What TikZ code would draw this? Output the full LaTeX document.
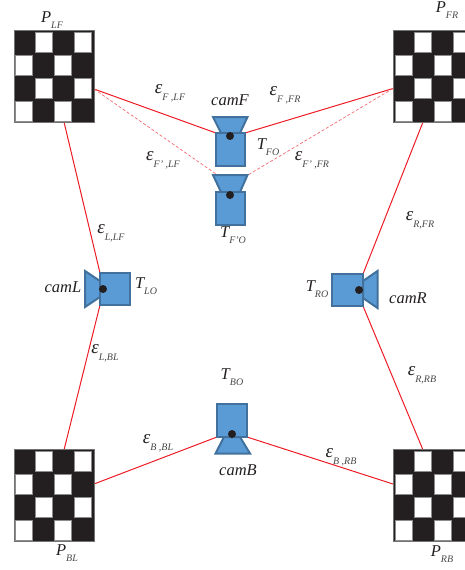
\documentclass[tikz,border=0pt]{standalone}
\usepackage{amsmath}
\usepackage{fontspec}
\setmainfont{Liberation Serif}
\usetikzlibrary{arrows.meta,positioning,backgrounds}
\definecolor{camfill}{HTML}{5B9BD5}
\definecolor{camline}{HTML}{41719C}
\definecolor{boardblack}{HTML}{231F20}
\definecolor{errred}{HTML}{ED1C24}
\tikzset{
  board/.style={draw=black!55,line width=0.8pt,fill=boardblack,minimum width=80pt,minimum height=92pt,inner sep=0pt,outer sep=0pt},
  boardcell/.style={draw=black!45,line width=0.7pt,fill=white,minimum width=17pt,minimum height=19.5pt,inner sep=0pt,outer sep=0pt},
  cambody/.style={draw=camline,line width=2pt,fill=camfill,inner sep=0pt,outer sep=0pt},
  camlens/.style={draw=camline,line width=2pt,fill=camfill,line join=miter},
  camdot/.style={circle,fill=boardblack,minimum size=8pt,inner sep=0pt},
  errline/.style={draw=errred,line width=1pt},
  errdash/.style={draw=errred!65,line width=0.7pt,densely dashed},
  txt/.style={inner sep=0pt,text=boardblack,font=\fontsize{16.5}{18}\selectfont\itshape},
}
% symbol with a lowered small index
\newcommand{\sublabel}[2]{#1\raisebox{-0.38em}{\fontsize{10}{10}\selectfont\itshape\color{black!72}#2}}
\newcommand{\errlabel}[1]{\sublabel{\fontsize{19}{18}\selectfont ε}{#1}}
\newcommand{\checkerboard}[1]{%
  \foreach \col/\row in {1/0,3/0,0/1,2/1,1/2,3/2,0/3,2/3}{
    \node[boardcell] (#1c\col\row) at ([xshift=\col*19.6pt+10pt,yshift=-\row*22.9pt-12pt]#1.north west) {};
  }
}
\begin{document}
\begin{tikzpicture}[x=1pt,y=-1pt,>=Latex]
\clip (0,0) rectangle (465,570);
% calibration boards
\node[board] (plf) at (54,76.5) {};
\node[board] (pfr) at (433.5,76.5) {};
\node[board] (pbl) at (54,495.5) {};
\node[board] (prb) at (433.5,495.5) {};
\checkerboard{plf}
\checkerboard{pfr}
\checkerboard{pbl}
\checkerboard{prb}
% where the lines meet the boards
\coordinate (plfe) at (94,89);
\coordinate (plfs) at (64,122);
\coordinate (pfrw) at (393,88.5);
\coordinate (pfrs) at (423,122);
\coordinate (pbln) at (64,450);
\coordinate (pble) at (94,484);
\coordinate (prbn) at (423,450);
\coordinate (prbw) at (393,484);
% camera bodies
\node[cambody,minimum width=29pt,minimum height=33pt] (camf) at (230.5,149.5) {};
\node[cambody,minimum width=29pt,minimum height=33pt] (camfo) at (230.5,208.5) {};
\node[cambody,minimum width=30pt,minimum height=32pt] (caml) at (115,289) {};
\node[cambody,minimum width=31pt,minimum height=32pt] (camr) at (347.5,290) {};
\node[cambody,minimum width=30pt,minimum height=33pt] (camb) at (232,420.5) {};
\coordinate (lensfo) at (216,174);
\coordinate (lensfr) at (248,175);
\begin{scope}[on background layer]
% lines
\draw[errline] (plfe)--(camf.north west);
\draw[errline] (pfrw)--(camf.north east);
\draw[errdash] (plfe)--(lensfo);
\draw[errdash] (pfrw)--(lensfr);
\draw[errline] (plfs)--(caml.north west);
\draw[errline] (pbln)--(caml.south west);
\draw[errline] (pfrs)--(camr.north east);
\draw[errline] (prbn)--(camr.south east);
\draw[errline] (pble)--(camb.south west);
\draw[errline] (prbw)--(camb.south east);
% lenses
\draw[camlens] (213,117)--(247.5,117)--(240,133)--(221,133)--cycle;
\draw[camlens] (213,175)--(247.5,175)--(240,192)--(221,192)--cycle;
\draw[camlens] (85,271)--(100,281)--(100,297)--(85,307)--cycle;
\draw[camlens] (377.5,271)--(363,281)--(363,298)--(377.5,308)--cycle;
\draw[camlens] (224,437)--(240,437)--(250,453.5)--(215.5,453.5)--cycle;
\end{scope}
\node[camdot] (dotf) at (230,136) {};
\node[camdot] (dotfo) at (230,195) {};
\node[camdot] (dotl) at (103,289) {};
\node[camdot] (dotr) at (359,290) {};
\node[camdot] (dotb) at (232,434) {};
% texts
\node[txt] (tplf) at (52,20) {\sublabel{P}{LF}};
\node[txt] (tpfr) at (447,10) {\sublabel{P}{FR}};
\node[txt] (tpbl) at (67,553) {\sublabel{P}{BL}};
\node[txt] (tprb) at (442,554) {\sublabel{P}{RB}};
\node[txt] (tcamf) at (230,100) {camF};
\node[txt] (tcaml) at (63,287) {camL};
\node[txt] (tcamr) at (408,298) {camR};
\node[txt] (tcamb) at (238,470) {camB};
\node[txt] (ttfo) at (268,147) {\sublabel{T}{FO}};
\node[txt] (ttfpo) at (233,235) {\sublabel{T}{F'O}};
\node[txt] (ttlo) at (146,286) {\sublabel{T}{LO}};
\node[txt] (ttro) at (317,289) {\sublabel{T}{RO}};
\node[txt] (ttbo) at (232,377) {\sublabel{T}{BO}};
\node[txt] (eflf) at (170,93) {\errlabel{F ,LF}};
\node[txt] (effr) at (285,95) {\errlabel{F ,FR}};
\node[txt] (efplf) at (163,160) {\errlabel{F' ,LF}};
\node[txt] (efpfr) at (312,160) {\errlabel{F' ,FR}};
\node[txt] (ellf) at (111,233) {\errlabel{L,LF}};
\node[txt] (erfr) at (420,220) {\errlabel{R,FR}};
\node[txt] (elbl) at (105,353) {\errlabel{L,BL}};
\node[txt] (errb) at (422,375) {\errlabel{R,RB}};
\node[txt] (ebbl) at (158,443) {\errlabel{B ,BL}};
\node[txt] (ebrb) at (341,457) {\errlabel{B ,RB}};
\end{tikzpicture}
\end{document}
